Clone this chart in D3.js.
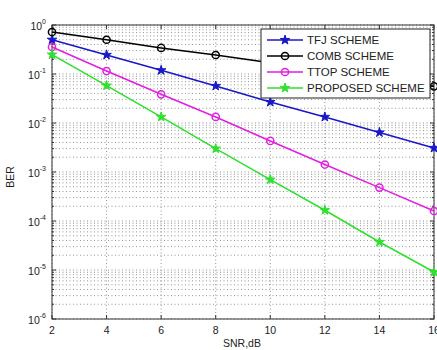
<!DOCTYPE html>
<html lang="en">
<head>
  <meta charset="utf-8">
  <title>BER vs SNR</title>
  <script src="https://d3js.org/d3.v7.min.js"></script>
  <style>
  body { margin: 0; background: #fff; }
  text { font-family: "Liberation Sans", Arial, sans-serif; fill: #222; }
  .grid line { stroke: #666; stroke-width: 0.7; stroke-dasharray: 1,2.5; }
  </style>
</head>
<body>
<script>

var snr = [2, 4, 6, 8, 10, 12, 14, 16];
var tfj = [0.50, 0.245, 0.119, 0.057, 0.0268, 0.0133, 0.0064, 0.0031];
var comb = [0.72, 0.50, 0.34, 0.244, 0.17, 0.117, 0.081, 0.056];
var ttop = [0.356, 0.115, 0.0385, 0.0133, 0.0043, 0.00142, 0.00048, 0.00016];
var proposed = [0.249, 0.058, 0.0133, 0.003, 0.0007, 0.000166, 0.0000372, 0.0000091];
var names = ["TFJ SCHEME", "COMB SCHEME", "TTOP SCHEME", "PROPOSED SCHEME"];
var yDecades = [0, -1, -2, -3, -4, -5, -6];

var margin = {top: 25, right: 3, bottom: 31, left: 52},
    width = 437 - margin.left - margin.right,
    height = 350 - margin.top - margin.bottom;

var series = [
  {name: names[0], values: tfj, color: "#1818c8", marker: "star"},
  {name: names[1], values: comb, color: "#000000", marker: "circle"},
  {name: names[2], values: ttop, color: "#e020e0", marker: "circle"},
  {name: names[3], values: proposed, color: "#30e030", marker: "star"}
];

var x = d3.scaleLinear().domain([2, 16]).range([0, width]);
var y = d3.scaleLog().domain([1e-6, 1]).range([height, 0]);

var svg = d3.select("body").append("svg")
    .attr("width", 437)
    .attr("height", 350)
  .append("g")
    .attr("transform", "translate(" + margin.left + "," + margin.top + ")");

// minor + major log ticks
var minor = [];
yDecades.forEach(function(e) {
  if (e === 0) return;
  for (var k = 1; k < 10; k++) minor.push(k * Math.pow(10, e));
});
minor.push(1);

var grid = svg.append("g").attr("class", "grid");
grid.selectAll(".hy").data(minor).enter().append("line")
    .attr("x1", 0).attr("x2", width)
    .attr("y1", function(d) { return y(d); })
    .attr("y2", function(d) { return y(d); });
grid.selectAll(".vx").data(snr).enter().append("line")
    .attr("x1", function(d) { return x(d); })
    .attr("x2", function(d) { return x(d); })
    .attr("y1", 0).attr("y2", height);

// frame
svg.append("rect")
    .attr("width", width).attr("height", height)
    .attr("fill", "none").attr("stroke", "#333").attr("stroke-width", 1);

// inward ticks
var ticks = svg.append("g").attr("stroke", "#333").attr("stroke-width", 1);
snr.forEach(function(d) {
  ticks.append("line").attr("x1", x(d)).attr("x2", x(d)).attr("y1", height).attr("y2", height - 4);
  ticks.append("line").attr("x1", x(d)).attr("x2", x(d)).attr("y1", 0).attr("y2", 4);
});
minor.forEach(function(d) {
  var major = Math.abs(Math.log10(d) - Math.round(Math.log10(d))) < 1e-9;
  var len = major ? 4 : 2;
  ticks.append("line").attr("x1", 0).attr("x2", len).attr("y1", y(d)).attr("y2", y(d));
  ticks.append("line").attr("x1", width).attr("x2", width - len).attr("y1", y(d)).attr("y2", y(d));
});

// x labels
svg.selectAll(".xl").data(snr).enter().append("text")
    .attr("x", function(d) { return x(d); })
    .attr("y", height + 15)
    .attr("text-anchor", "middle")
    .style("font-size", "10.5px")
    .text(function(d) { return d; });

// y labels
var yl = svg.selectAll(".yl").data(yDecades).enter().append("text")
    .attr("x", -6)
    .attr("y", function(d) { return y(Math.pow(10, d)) + 5; })
    .attr("text-anchor", "end")
    .style("font-size", "10.5px");
yl.append("tspan").text("10");
yl.append("tspan").attr("dy", -6).style("font-size", "7px").text(function(d) { return d; });

svg.append("text")
    .attr("x", 190).attr("y", height + 28)
    .attr("text-anchor", "middle")
    .style("font-size", "10.5px")
    .text("SNR,dB");

svg.append("text")
    .attr("transform", "translate(-38," + (height / 2 + 5) + ") rotate(-90)")
    .attr("text-anchor", "middle")
    .style("font-size", "10.5px")
    .text("BER");

var line = d3.line()
    .x(function(d, i) { return x(snr[i]); })
    .y(function(d) { return y(d); });

var star = d3.symbol().type(d3.symbolStar).size(28);

function drawMarker(g, s, cx, cy) {
  if (s.marker === "star") {
    g.append("path").attr("d", star)
        .attr("transform", "translate(" + cx + "," + cy + ")")
        .attr("fill", s.color).attr("stroke", s.color).attr("stroke-width", 1);
  } else {
    g.append("circle").attr("cx", cx).attr("cy", cy).attr("r", 3.6)
        .attr("fill", "none").attr("stroke", s.color).attr("stroke-width", 1.5);
  }
}

series.forEach(function(s) {
  var g = svg.append("g");
  g.append("path").datum(s.values)
      .attr("d", line)
      .attr("fill", "none")
      .attr("stroke", s.color)
      .attr("stroke-width", 1.6);
  s.values.forEach(function(v, i) { drawMarker(g, s, x(snr[i]), y(v)); });
});

// legend
var lg = svg.append("g").attr("transform", "translate(" + (261 - margin.left) + "," + (29 - margin.top) + ")");
lg.append("rect").attr("width", 169).attr("height", 69)
    .attr("fill", "#fff").attr("stroke", "#222").attr("stroke-width", 1);
series.forEach(function(s, i) {
  var cy = 11 + i * 16;
  lg.append("line").attr("x1", 6).attr("x2", 42).attr("y1", cy).attr("y2", cy)
      .attr("stroke", s.color).attr("stroke-width", 1.6);
  drawMarker(lg, s, 24, cy);
  lg.append("text").attr("x", 46).attr("y", cy + 4)
      .style("font-size", "11.5px")
      .text(s.name);
});

</script>
</body>
</html>
